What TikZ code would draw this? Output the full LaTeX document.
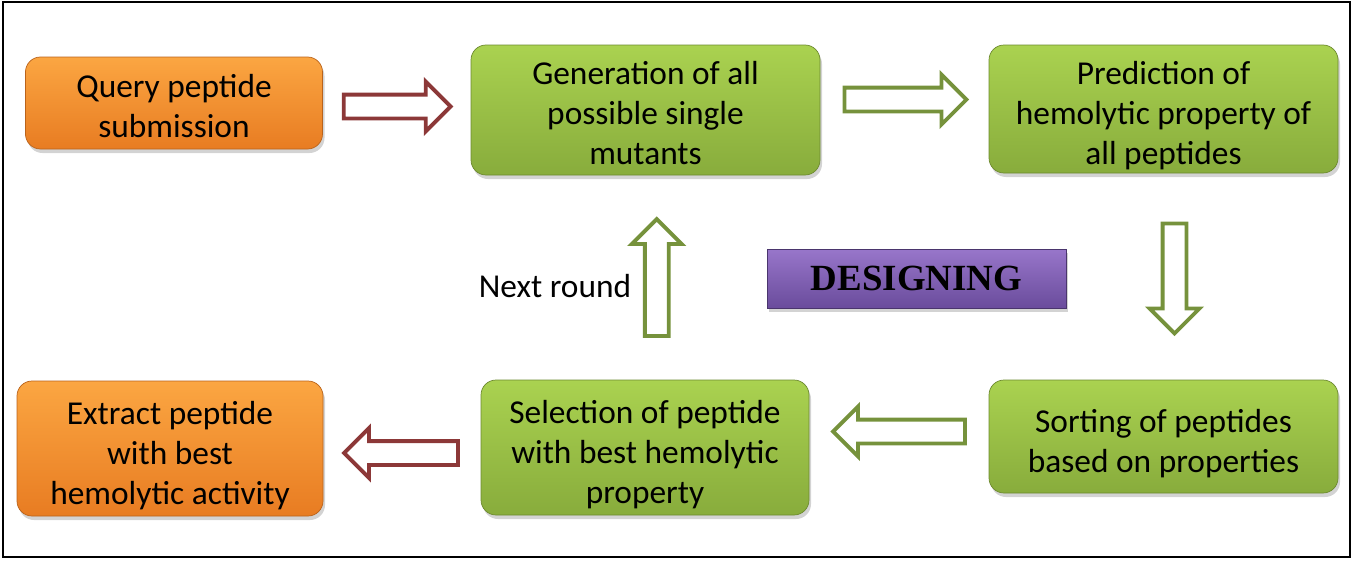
\documentclass[tikz,border=0pt]{standalone}
\usepackage{fontspec}
\setmainfont{Carlito}
\newfontfamily\titlefont{Liberation Serif}
\usetikzlibrary{shapes.arrows,shadows,calc}

\definecolor{arrowred}{RGB}{140,56,56}
\definecolor{arrowgreen}{RGB}{118,146,60}
\definecolor{orangetop}{RGB}{251,166,66}
\definecolor{orangebot}{RGB}{232,124,34}
\definecolor{greentop}{RGB}{170,210,80}
\definecolor{greenbot}{RGB}{136,172,60}
\definecolor{purpletop}{RGB}{152,118,202}
\definecolor{purplebot}{RGB}{106,76,156}

% pushes box text slightly down
\newcommand{\lowstrut}{\rule{0pt}{21pt}}
\newcommand{\midstrut}{\rule{0pt}{16.5pt}}

\tikzset{
  stepbox/.style={rounded corners=0.3cm, align=center, inner sep=0pt,
    font=\fontsize{19}{22.8}\selectfont,
    drop shadow={opacity=0.35, shadow xshift=0.04cm, shadow yshift=-0.08cm}},
  orangebox/.style={stepbox, top color=orangetop, bottom color=orangebot, draw=orangebot!80!black, line width=0.4pt},
  greenbox/.style={stepbox, top color=greentop, bottom color=greenbot, draw=greenbot!80!black, line width=0.4pt},
  blockarrow/.style={single arrow, draw=#1, fill=white, line width=2.2pt,
    inner xsep=0pt, inner ysep=0.2cm, single arrow head extend=0.26cm}
}

\begin{document}
\begin{tikzpicture}
  \useasboundingbox (0,0) rectangle (27.06,-11.2);
  \draw[line width=1.2pt] (0.06,-0.04) rectangle (27.0,-11.14);

  % process boxes
  \node[orangebox, minimum width=5.94cm, minimum height=1.84cm] (query) at (3.48,-2.06) {\midstrut Query peptide\\submission};
  \node[greenbox, minimum width=6.98cm, minimum height=2.6cm] (gen) at (12.91,-2.2) {\midstrut Generation of all\\possible single\\mutants};
  \node[greenbox, minimum width=6.98cm, minimum height=2.56cm] (pred) at (23.27,-2.18) {\lowstrut Prediction of\\hemolytic property of\\all peptides};
  \node[greenbox, minimum width=6.98cm, minimum height=2.26cm] (sort) at (23.27,-8.73) {\lowstrut Sorting of peptides\\based on properties};
  \node[greenbox, minimum width=6.56cm, minimum height=2.7cm] (sel) at (12.9,-8.95) {\lowstrut Selection of peptide\\with best hemolytic\\property};
  \node[orangebox, minimum width=6.12cm, minimum height=2.7cm] (extract) at (3.4,-8.97) {\lowstrut Extract peptide\\with best\\hemolytic activity};

  \node[top color=purpletop, bottom color=purplebot, draw=purplebot!70!black, line width=0.4pt,
    minimum width=5.98cm, minimum height=1.18cm,
    drop shadow={opacity=0.35, shadow xshift=0.04cm, shadow yshift=-0.08cm},
    font=\titlefont\bfseries\fontsize{21}{24}\selectfont] (design) at (18.33,-5.57) {DESIGNING};

  % block arrows
  \node[blockarrow=arrowred, minimum height=2.14cm] (a1) at ($(query.east)!0.5!(gen.west)+(-0.11,0)$) {};
  \node[blockarrow=arrowgreen, minimum height=2.44cm] (a2) at ($(gen.east)!0.5!(pred.west)+(-0.1,0.2)$) {};
  \node[blockarrow=arrowgreen, minimum height=2.2cm, rotate=-90] (a3) at ($(pred.south)!0.5!(sort.north)+(0.22,0.08)$) {};
  \node[blockarrow=arrowgreen, minimum height=2.64cm, rotate=180] (a4) at ($(sort.west)!0.5!(sel.east)+(0.12,0.21)$) {};
  \node[blockarrow=arrowgreen, minimum height=2.34cm, rotate=90] (a5) at ($(sel.north)!0.5!(gen.south)+(0.23,-0.12)$) {};
  \node[blockarrow=arrowred, minimum height=2.28cm, rotate=180] (a6) at ($(sel.west)!0.5!(extract.east)+(0.1,-0.1)$) {};

  \node[font=\fontsize{19}{22.8}\selectfont] (next) at (11.1,-5.72) {Next round};
\end{tikzpicture}
\end{document}
